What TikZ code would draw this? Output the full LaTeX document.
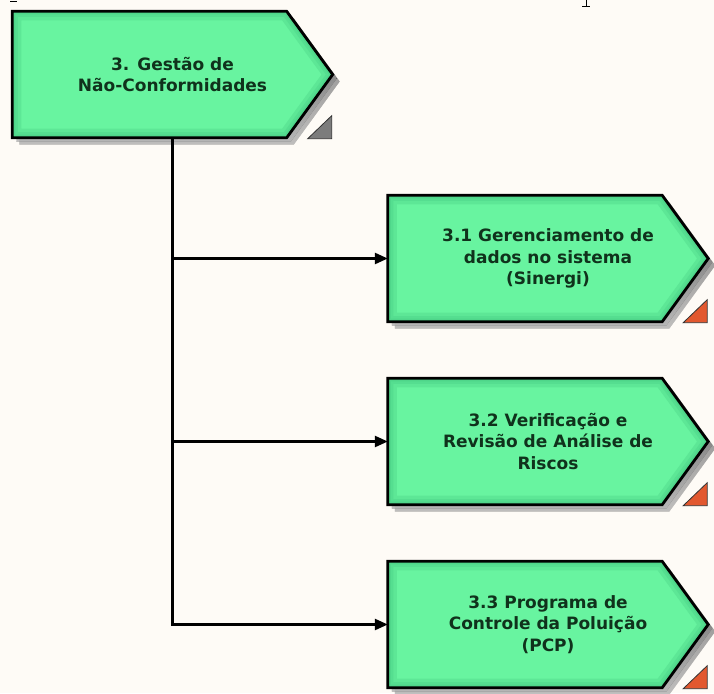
\documentclass[tikz,border=0pt]{standalone}
\usepackage{fontspec}
\newfontfamily\labelfont{DejaVu Sans}
\usetikzlibrary{arrows.meta,backgrounds,calc}

\definecolor{paper}{HTML}{FEFBF6}
\definecolor{mint}{HTML}{68F4A0}
\definecolor{mintedge}{HTML}{4FD68A}
\definecolor{labeltext}{HTML}{10321C}
\definecolor{markgray}{HTML}{7C7C7C}
\definecolor{markred}{HTML}{E2582F}
\definecolor{shade}{HTML}{C4C4C4}

\tikzset{
  procbox/.style={minimum width=320pt, minimum height=126pt, inner sep=0pt,
    align=center, text=labeltext,
    font=\labelfont\bfseries\fontsize{17}{21.5}\selectfont},
  flow/.style={line width=2.5pt, -{Triangle[length=13pt,width=11pt]}},
  trunk/.style={line width=2.5pt},
  boxline/.style={draw=black, line width=2.8pt, line join=miter},
}

% arrow-shaped outline around the node #1, moved by the offset #2
\newcommand\boxoutline[2]{($(#1.north west)+(#2)$) -- ($(#1.north east)+(-46,0)+(#2)$)
  -- ($(#1.east)+(#2)$) -- ($(#1.south east)+(-46,0)+(#2)$) -- ($(#1.south west)+(#2)$) -- cycle}

\begin{document}
\begin{tikzpicture}[x=1pt, y=-1pt]
  \useasboundingbox (0,0) rectangle (714,693);

  % process boxes
  \node[procbox] (p0) at (172.5,74.5) {3. Gestão de\\Não-Conformidades};
  \node[procbox] (p1) at (548,258.5) {3.1 Gerenciamento de\\dados no sistema\\(Sinergi)};
  \node[procbox] (p2) at (548,441.5) {3.2 Verificação e\\Revisão de Análise de\\Riscos};
  \node[procbox] (p3) at (548,624.5) {3.3 Programa de\\Controle da Poluição\\(PCP)};

  % paper, then box bodies: soft shadow, bevelled fill, outline and corner marker
  \begin{scope}[on background layer]
    \fill[paper] (0,0) rectangle (714,693);
    \foreach \b/\m in {p0/markgray, p1/markred, p2/markred, p3/markred}{
      \fill[shade, opacity=0.45] \boxoutline{\b}{7,7};
      \fill[shade, opacity=0.6] \boxoutline{\b}{4,4};
      \begin{scope}
        \clip \boxoutline{\b}{0,0};
        \fill[mint] \boxoutline{\b}{0,0};
        \draw[mint!55!mintedge, line width=18pt] \boxoutline{\b}{0,0};
        \draw[mint!25!mintedge, line width=11pt] \boxoutline{\b}{0,0};
        \draw[mintedge, line width=6pt] \boxoutline{\b}{0,0};
      \end{scope}
      \draw[boxline] \boxoutline{\b}{0,0};
      \filldraw[fill=\m, draw=black!80, line width=0.8pt]
        ($(\b.south east)+(-25,1)$) -- ($(\b.south east)+(-1,1)$) -- ($(\b.south east)+(-1,-22)$) -- cycle;
    }
  \end{scope}

  % connectors
  \draw[trunk] (p0.south) -- (p0.south |- p1.west);
  \draw[flow] (p0.south |- p1.west) -- (p1.west);
  \draw[flow] (p0.south |- p2.west) -- (p2.west);
  \draw[flow] (p0.south) |- (p3.west);

  % clipped glyph fragments along the top edge
  \draw[line width=1.6pt] (10,1.5) -- (17,1.5);
  \draw[line width=1pt] (586,0) -- (586,6);
  \draw[line width=0.8pt] (582,6) -- (590,6);
\end{tikzpicture}
\end{document}
